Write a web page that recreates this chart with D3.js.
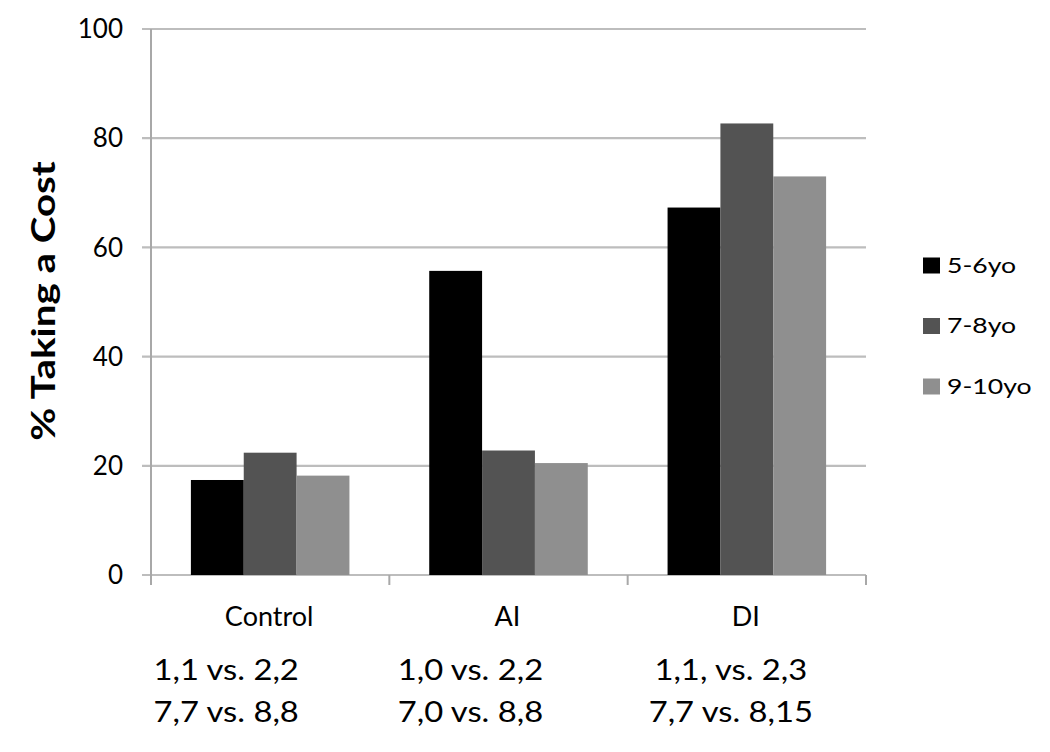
<!DOCTYPE html>
<html><head><meta charset="utf-8">
<script src="https://cdn.jsdelivr.net/npm/d3@7"></script>
<style>body{margin:0;background:#fff;} text{font-family:Lato,"Open Sans",sans-serif;fill:#000;}</style>
</head><body><svg id="c" width="1050" height="752"></svg>
<script>
const categories = ["Control", "AI", "DI"];
const seriesNames = ["5-6yo", "7-8yo", "9-10yo"];
const seriesColors = ["#000000", "#535353", "#8f8f8f"];
const values56 = [17.4, 55.7, 67.3];
const values78 = [22.4, 22.8, 82.7];
const values910 = [18.2, 20.5, 73.0];
const yTicks = [0, 20, 40, 60, 80, 100];
const noteLine1 = ["1,1 vs. 2,2", "1,0 vs. 2,2", "1,1, vs. 2,3"];
const noteLine2 = ["7,7 vs. 8,8", "7,0 vs. 8,8", "7,7 vs. 8,15"];
const yTitle = "% Taking a Cost";

const series = [values56, values78, values910];
const svg = d3.select("#c");
const pL = 151, pR = 866, pT = 29, pB = 575;

const x0 = d3.scaleBand().domain(categories).range([pL, pR]).paddingInner(0).paddingOuter(0);
const x1 = d3.scaleBand().domain(seriesNames).range([0, x0.bandwidth()]).paddingInner(0).paddingOuter(0.755);
const y = d3.scaleLinear().domain([0, 100]).range([pB, pT]);

// gridlines
svg.append("g").selectAll("line").data(yTicks).join("line")
  .attr("x1", pL - 9).attr("x2", pR).attr("y1", d => y(d)).attr("y2", d => y(d))
  .attr("stroke", "#bdbdbd").attr("stroke-width", 2.2);

// y axis line
svg.append("line").attr("x1", pL).attr("x2", pL).attr("y1", pT).attr("y2", pB + 10)
  .attr("stroke", "#a8a8a8").attr("stroke-width", 2);

// x category ticks
svg.append("g").selectAll("line").data(categories).join("line")
  .attr("x1", d => x0(d) + x0.bandwidth()).attr("x2", d => x0(d) + x0.bandwidth())
  .attr("y1", pB).attr("y2", pB + 10).attr("stroke", "#a8a8a8").attr("stroke-width", 2);

// y labels
svg.append("g").selectAll("text").data(yTicks).join("text")
  .attr("x", 123).attr("y", d => y(d)).attr("dy", "0.35em").attr("text-anchor", "end")
  .attr("font-size", 26).text(d => d);

// bars
const groups = svg.append("g").selectAll("g").data(categories).join("g")
  .attr("transform", d => `translate(${x0(d)},0)`);
groups.selectAll("rect").data((c, ci) => seriesNames.map((s, si) => ({s, si, v: series[si][ci]}))).join("rect")
  .attr("x", d => x1(d.s)).attr("width", x1.bandwidth())
  .attr("y", d => y(d.v)).attr("height", d => y(0) - y(d.v))
  .attr("fill", d => seriesColors[d.si]);

// y title
svg.append("text").attr("transform", `translate(55,301) rotate(-90) scale(1.26,1)`)
  .attr("text-anchor", "middle").attr("font-size", 32).attr("font-weight", "bold").text(yTitle);

// category labels
svg.append("g").selectAll("text").data(categories).join("text")
  .attr("x", d => x0(d) + x0.bandwidth() / 2 - 1).attr("y", 626).attr("text-anchor", "middle")
  .attr("font-size", 27).text(d => d);

// notes (text boxes placed under each category)
const noteShift = [-44, -38, -16];
const noteSx = 1.13;
[noteLine1, noteLine2].forEach((lines, li) => {
  svg.append("g").selectAll("text").data(categories).join("text")
    .attr("transform", (d, i) => `translate(${x0(d) + x0.bandwidth() / 2 + noteShift[i]},${li === 0 ? 679.5 : 721.5}) scale(${noteSx},1)`)
    .attr("text-anchor", "middle").attr("font-size", 29)
    .text((d, i) => lines[i]);
});

// legend
const lg = svg.append("g").selectAll("g").data(seriesNames).join("g")
  .attr("transform", (d, i) => `translate(923,${272.5 + i * 60.5})`);
lg.append("rect").attr("x", 0).attr("y", -15).attr("width", 17).attr("height", 16)
  .attr("fill", (d, i) => seriesColors[i]);
lg.append("text").attr("transform", "translate(24,0) scale(1.21,1)")
  .attr("font-size", 22).text(d => d);
</script></body></html>
